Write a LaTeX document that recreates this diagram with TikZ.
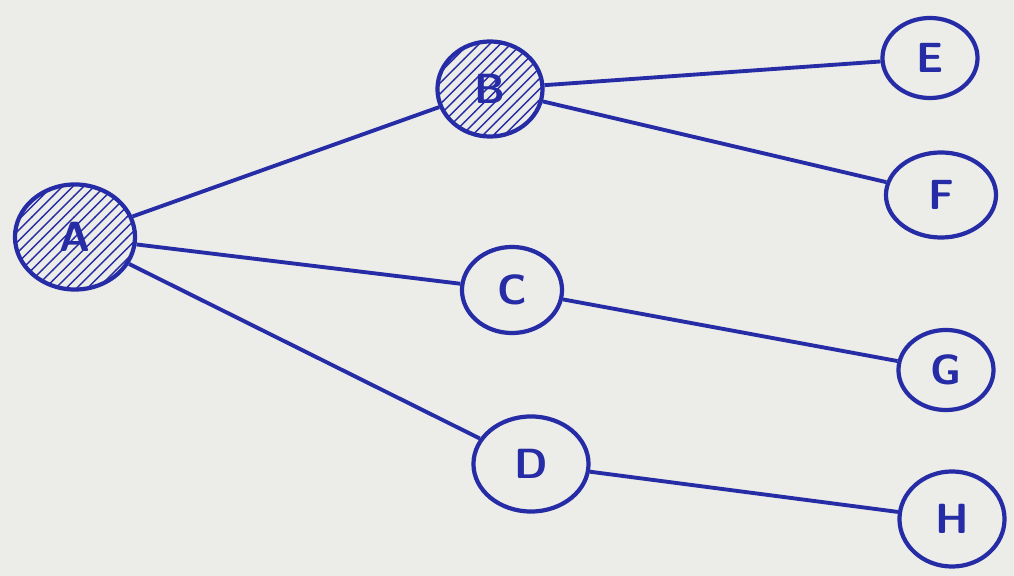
\documentclass[tikz,border=0pt]{standalone}
\usepackage{xcolor}
\usepackage{tikz}
\usetikzlibrary{shapes.geometric, patterns}

\definecolor{ink}{RGB}{38,44,165}
\definecolor{paper}{RGB}{236,236,232}

\begin{document}
\begin{tikzpicture}[
  x=0.01cm, y=-0.01cm,
  vertex/.style={ellipse, draw=ink, line width=1.2pt, text=ink, inner sep=0pt, font=\sffamily\bfseries\large},
  visited/.style={vertex, pattern=north east lines, pattern color=ink},
  edge/.style={draw=ink, line width=1.1pt}
]
\fill[paper] (0,0) rectangle (1014,576);
\useasboundingbox (0,0) rectangle (1014,576);

\node[visited, minimum width=1.2cm, minimum height=1.05cm] (a) at (75,237) {A};
\node[visited, minimum width=1.05cm, minimum height=0.95cm] (b) at (490,89) {B};
\node[vertex, minimum width=1.0cm, minimum height=0.86cm] (c) at (512,290) {C};
\node[vertex, minimum width=1.15cm, minimum height=0.95cm] (d) at (531,464) {D};
\node[vertex, minimum width=0.95cm, minimum height=0.8cm] (e) at (930,58) {E};
\node[vertex, minimum width=1.1cm, minimum height=0.85cm] (f) at (941,195) {F};
\node[vertex, minimum width=0.95cm, minimum height=0.8cm] (g) at (946,370) {G};
\node[vertex, minimum width=1.05cm, minimum height=0.95cm] (h) at (952,519) {H};

\draw[edge] (a) -- (b);
\draw[edge] (a) -- (c);
\draw[edge] (a) -- (d);
\draw[edge] (b) -- (e);
\draw[edge] (b) -- (f);
\draw[edge] (c) -- (g);
\draw[edge] (d) -- (h);
\end{tikzpicture}
\end{document}
